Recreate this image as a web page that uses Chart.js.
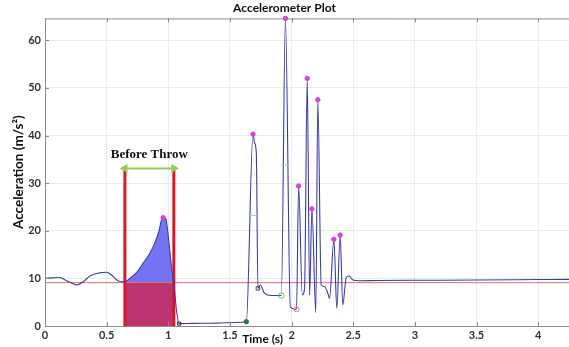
<!DOCTYPE html>
<html lang="en">
<head>
<meta charset="UTF-8">
<title>Accelerometer Plot</title>
<script src="https://cdn.jsdelivr.net/npm/chart.js@4.4.1/dist/chart.umd.min.js"></script>
<style>
  html, body { margin: 0; padding: 0; background: #fff; }
</style>
</head>
<body>
<canvas id="accel-chart" width="569" height="347"></canvas>
<script>
// trace: time (s) and acceleration (m/s^2)
const time = [0, 0.06, 0.12, 0.16, 0.21, 0.257, 0.31, 0.364, 0.43, 0.50, 0.54, 0.594,
  0.648, 0.688, 0.742, 0.796, 0.85, 0.89, 0.923, 0.945, 0.958, 0.98, 1.0, 1.026, 1.045,
  1.066, 1.088, 1.2, 1.4, 1.55, 1.633, 1.687, 1.70, 1.714, 1.727, 1.746, 1.78, 1.836,
  1.917, 1.95, 1.99, 2.04, 2.057, 2.087, 2.105, 2.127, 2.146, 2.165, 2.196, 2.213, 2.24,
  2.267, 2.294, 2.308, 2.343, 2.367, 2.394, 2.415, 2.443, 2.465, 2.497, 2.55, 2.7, 3.0,
  3.5, 4.0, 4.25];
const accel = [10.0, 10.1, 10.2, 9.7, 9.1, 8.6, 9.3, 10.5, 11.1, 11.3, 10.7, 9.45,
  9.3, 10.0, 11.2, 13.2, 15.3, 17.4, 19.8, 22.3, 22.75, 22.5, 18.8, 12.5, 9.0,
  3.4, 0.5, 0.55, 0.6, 0.75, 0.9, 40.3, 38.4, 36.3, 7.9, 8.6, 6.9, 6.4,
  6.4, 64.6, 3.9, 3.5, 29.4, 6.5, 7.8, 52.0, 6.5, 24.6, 2.8, 47.5, 8.6,
  8.25, 6.9, 5.8, 18.2, 3.7, 19.1, 4.4, 10.2, 10.5, 9.66, 9.5, 9.55, 9.6,
  9.65, 9.75, 9.8];

const threshold = 9.1;
const throwWindow = [0.648, 1.045];
const windowTop = 33.1;

const peakTime = [0.958, 1.687, 1.95, 2.057, 2.127, 2.165, 2.213, 2.343, 2.394];
const peakAccel = [22.75, 40.3, 64.6, 29.4, 52.0, 24.6, 47.5, 18.2, 19.1];

// other event markers
const valleyTime = [1.727, 2.04];
const valleyAccel = [7.9, 3.5];
const landTime = [1.088, 1.633];
const landAccel = [0.5, 0.9];
const restTime = [1.917];
const restAccel = [6.4];
const halfTime = [1.69, 1.94];
const halfAccel = [23.2, 33.8];

const xTicks = [0, 0.5, 1, 1.5, 2, 2.5, 3, 3.5, 4];
const yTicks = [0, 10, 20, 30, 40, 50, 60];

const pts = (xs, ys) => xs.map((v, i) => ({ x: v, y: ys[i] }));
const trace = pts(time, accel);
const windowTrace = trace.filter(p => p.x >= throwWindow[0] && p.x <= throwWindow[1]);

const frame = {
    id: 'frame',
    afterDraw(chart) {
        const { ctx, chartArea: a, scales: { x, y } } = chart;
        ctx.save();
        ctx.strokeStyle = '#8c8c8c';
        ctx.lineWidth = 1;
        ctx.beginPath();
        ctx.moveTo(a.left, a.top + 0.5);
        ctx.lineTo(a.right, a.top + 0.5);
        xTicks.forEach(v => {
            const px = Math.round(x.getPixelForValue(v)) + 0.5;
            ctx.moveTo(px, a.bottom); ctx.lineTo(px, a.bottom - 4);
            ctx.moveTo(px, a.top); ctx.lineTo(px, a.top + 4);
        });
        yTicks.forEach(v => {
            const py = Math.round(y.getPixelForValue(v)) + 0.5;
            ctx.moveTo(a.left, py); ctx.lineTo(a.left + 4, py);
        });
        ctx.stroke();

        ctx.fillStyle = '#111';
        ctx.textAlign = 'center';
        ctx.textBaseline = 'middle';
        ctx.font = 'bold 13px "Liberation Serif"';
        ctx.fillText('Before Throw', x.getPixelForValue((throwWindow[0] + throwWindow[1]) / 2), y.getPixelForValue(35.9));
        ctx.font = 'bold 12px Lato';
        ctx.fillText('Time (s)', x.getPixelForValue(1.765), a.bottom + 13);
        ctx.restore();
    }
};

const ctx = document.getElementById('accel-chart').getContext('2d');
new Chart(ctx, {
    type: 'line',
    data: {
        datasets: [
            {   // peaks
                data: pts(peakTime, peakAccel), showLine: false, order: 0,
                pointRadius: 2.2, pointBackgroundColor: '#e03ce0', pointBorderColor: '#e03ce0', clip: false
            },
            {
                data: pts(valleyTime, valleyAccel), showLine: false, order: 0,
                pointStyle: ['rect', 'circle'], pointRadius: 2.5, pointBorderWidth: 1,
                pointBackgroundColor: 'rgba(0,0,0,0)', pointBorderColor: ['#7a3a5a', '#e07aa0']
            },
            {
                data: pts(landTime, landAccel), showLine: false, order: 0,
                pointStyle: ['rect', 'circle'], pointRadius: 2.2, pointBorderWidth: 1,
                pointBackgroundColor: ['rgba(0,0,0,0)', '#2e7d32'], pointBorderColor: ['#222244', '#2e7d32']
            },
            {
                data: pts(restTime, restAccel), showLine: false, order: 0,
                pointRadius: 2.8, pointBorderWidth: 1,
                pointBackgroundColor: 'rgba(0,0,0,0)', pointBorderColor: '#66c266'
            },
            {
                data: pts(halfTime, halfAccel), showLine: false, order: 0,
                pointStyle: 'line', pointRadius: 3.5, pointBorderWidth: 1, pointBorderColor: '#a8dca8'
            },
            {   // signal
                data: trace, order: 1, borderColor: '#3b3bb2', borderWidth: 1.1,
                pointRadius: 0, cubicInterpolationMode: 'monotone', fill: false
            },
            {   // window span with arrows
                data: [{ x: throwWindow[0], y: windowTop }, { x: throwWindow[1], y: windowTop }],
                order: 2, borderColor: '#8fcf55', borderWidth: 2,
                pointStyle: 'triangle', pointRotation: [-90, 90], pointRadius: 3.2,
                pointBackgroundColor: '#8fcf55', pointBorderColor: '#8fcf55'
            },
            ...throwWindow.map(t => ({
                data: [{ x: t, y: 0 }, { x: t, y: windowTop }],
                order: 3, borderColor: '#e3141e', borderWidth: 3, pointRadius: 0
            })),
            {   // threshold
                data: [{ x: 0, y: threshold }, { x: 4.25, y: threshold }],
                order: 4, borderColor: '#e36a6a', borderWidth: 1, pointRadius: 0
            },
            {   // area above threshold
                data: windowTrace, order: 5, borderWidth: 0, pointRadius: 0,
                cubicInterpolationMode: 'monotone',
                fill: { value: threshold }, backgroundColor: 'rgba(100, 100, 242, 0.9)'
            },
            {   // area below threshold
                data: [{ x: throwWindow[0], y: threshold }, { x: throwWindow[1], y: threshold }],
                order: 6, borderWidth: 0, pointRadius: 0,
                fill: 'origin', backgroundColor: 'rgb(188, 52, 112)'
            }
        ]
    },
    options: {
        responsive: false,
        animation: false,
        layout: { autoPadding: false, padding: 0 },
        plugins: {
            legend: { display: false },
            tooltip: { enabled: false },
            title: {
                display: true, text: 'Accelerometer Plot', color: '#111',
                font: { family: 'Lato', size: 12, weight: 'bold' },
                padding: { top: 1, bottom: 3 }
            }
        },
        scales: {
            x: {
                type: 'linear', min: 0, max: 4.25,
                afterBuildTicks: s => { s.ticks = xTicks.map(v => ({ value: v })); },
                afterFit: s => { s.height = 21; },
                grid: { color: '#ebebeb', drawTicks: false },
                border: { display: true, color: '#8c8c8c' },
                ticks: {
                    padding: 3, color: '#333', maxRotation: 0,
                    font: { family: 'Lato', size: 11, weight: 'bold' },
                    callback: v => String(v)
                }
            },
            y: {
                type: 'linear', min: 0, max: 64.6,
                afterBuildTicks: s => { s.ticks = yTicks.map(v => ({ value: v })); },
                afterFit: s => { s.width = 45; },
                grid: { color: '#ebebeb', drawTicks: false },
                border: { display: true, color: '#8c8c8c' },
                ticks: { padding: 4, color: '#333', font: { family: 'Lato', size: 11, weight: 'bold' } },
                title: {
                    display: true, text: 'Acceleration (m/s²)', color: '#111',
                    font: { family: 'Lato', size: 13.5, weight: 'bold' },
                    padding: { top: 11, bottom: 0 }
                }
            }
        }
    },
    plugins: [frame]
});
</script>
</body>
</html>
